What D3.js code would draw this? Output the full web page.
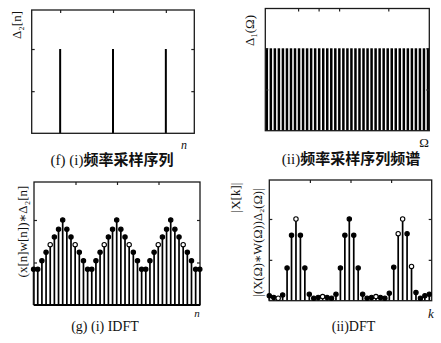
<!DOCTYPE html>
<html>
<head>
<meta charset="utf-8">
<script src="https://cdn.jsdelivr.net/npm/d3@7"></script>
<style>
  body { margin: 0; background: #fff; }
  text { fill: #111; }
</style>
</head>
<body>
<script>
// (f) frequency-sampling impulse train Δ2[n], n = 0..40
const sampleTrain = [0,0,0,0,0,0,0,1,0,0,0,0,0,0,0,0,0,0,0,0,1,0,0,0,0,0,0,0,0,0,0,0,0,1,0,0,0,0,0,0,0];
// (ii) its spectrum Δ1(Ω): a comb of equal lines
const combSpectrum = [1,1,1,1,1,1,1,1,1,1,1,1,1,1,1,1,1,1,1,1,1,1,1,1,1,1,1,1,1,1,1,1,1,1,1,1,1,1,1,1,1];
// (g) IDFT: periodic repetition of the windowed sequence, n = 0..40
const idftValues = [0.42,0.42,0.52,0.62,0.71,0.80,0.89,1.00,0.89,0.80,0.71,0.62,0.52,0.42,
                    0.42,0.52,0.62,0.71,0.80,0.89,1.00,0.89,0.80,0.71,0.62,0.52,0.42,
                    0.42,0.52,0.62,0.71,0.80,0.89,1.00,0.89,0.80,0.71,0.62,0.52,0.42,0.42];
const idftOpen = [4,10,17,23,30,36];
// (ii) DFT magnitude |X[k]|, k = 0..36
const dftValues = [0.06,0.04,0.03,0.07,0.40,0.80,1.00,0.80,0.40,0.08,0.03,0.04,0.05,0.04,0.03,
                   0.08,0.40,0.80,1.00,0.80,0.40,0.08,0.03,0.04,0.05,0.04,0.03,
                   0.09,0.41,0.82,1.00,0.82,0.42,0.10,0.03,0.06,0.08];
const dftOpen = [2,6,12,24,29,30,32];

// captions: [prefix, Chinese title]
const captions = [["(f) (i)", "频率采样序列"], ["(ii)", "频率采样序列频谱"], ["(g) (i) IDFT", ""], ["(ii)DFT", ""]];

const W = 441, H = 343;
const svg = d3.select("body").append("svg").attr("width", W).attr("height", H);

const serif = "'Liberation Serif','DejaVu Serif',serif";
const cjk = "'Noto Sans CJK SC',sans-serif";

// frame with small inward ticks on all four sides
function frame(x, y, yTicks, xTicks) {
  const [x0, x1] = x.range(), [y0, y1] = y.range();
  const g = svg.append("g");
  const clean = s => { s.select(".domain").remove(); s.selectAll("line").attr("stroke", "#222").attr("stroke-width", 1.2); };
  g.append("g").attr("transform", `translate(${x0},0)`)
    .call(d3.axisLeft(y).tickValues(yTicks).tickSize(-3).tickFormat("")).call(clean);
  g.append("g").attr("transform", `translate(${x1},0)`)
    .call(d3.axisRight(y).tickValues(yTicks).tickSize(-3).tickFormat("")).call(clean);
  g.append("g").attr("transform", `translate(0,${y1})`)
    .call(d3.axisTop(x).tickValues(xTicks).tickSize(-3).tickFormat("")).call(clean);
  g.append("rect").attr("x", Math.min(x0, x1)).attr("y", y1)
    .attr("width", Math.abs(x1 - x0)).attr("height", y0 - y1)
    .attr("fill", "none").attr("stroke", "#1a1a1a").attr("stroke-width", 1.3);
  return g;
}

function stems(data, x, y, width) {
  svg.append("g").selectAll("line").data(data).join("line")
    .attr("x1", (d, i) => x(i)).attr("x2", (d, i) => x(i))
    .attr("y1", y(0)).attr("y2", d => y(d))
    .attr("stroke", "#000").attr("stroke-width", width);
}

function markers(data, open, x, y) {
  svg.append("g").selectAll("circle").data(data).join("circle")
    .attr("cx", (d, i) => x(i)).attr("cy", d => y(d)).attr("r", 2.2)
    .attr("fill", (d, i) => open.includes(i) ? "#fff" : "#000")
    .attr("stroke", "#000").attr("stroke-width", 1.1);
}

function vlabel(txt, cx, cy, size) {
  svg.append("text").attr("transform", `translate(${cx},${cy}) rotate(-90)`)
    .attr("text-anchor", "middle").attr("dominant-baseline", "central")
    .style("font-family", serif).style("font-size", size + "px").text(txt);
}
function label(txt, x, y, size, italic) {
  svg.append("text").attr("x", x).attr("y", y).attr("text-anchor", "middle")
    .style("font-family", serif).style("font-size", size + "px")
    .style("font-style", italic ? "italic" : "normal").text(txt);
}
function caption(parts, x, y, size) {
  const t = svg.append("text").attr("x", x).attr("y", y).attr("text-anchor", "middle")
    .style("font-size", size + "px");
  t.append("tspan").style("font-family", serif).text(parts[0]);
  if (parts[1]) t.append("tspan").style("font-family", cjk).style("font-weight", "bold").text(parts[1]);
}

// ---- (f) impulse train ----
const xf = d3.scaleLinear().domain([0, 40]).range([31.7, 194.3]);
const yf = d3.scaleLinear().domain([0, 1.463]).range([133.3, 10]);
stems(sampleTrain, xf, yf, 2);
frame(xf, yf, [0.5, 1], [7, 20, 33]);
vlabel("Δ₂[n]", 16.5, 25, 13);
label("n", 184, 149, 12, true);
caption(captions[0], 112, 165, 15);

// ---- (ii) comb spectrum ----
const xs = d3.scaleLinear().domain([0, 40]).range([266.8, 428]);
const ys = d3.scaleLinear().domain([0, 1.483]).range([130.7, 8.5]);
stems(combSpectrum, xs, ys, 2.5);
frame(d3.scaleLinear().domain([0, 40]).range([265.3, 429.3]), ys, [0.5, 1], [8, 13, 18, 30]);
vlabel("Δ₁(Ω)", 249.5, 30.5, 13);
label("Ω", 424, 147, 13, false);
caption(captions[1], 351, 164, 15);

// ---- (g) IDFT ----
const xg = d3.scaleLinear().domain([0, 40]).range([33.6, 199.8]);
const yg = d3.scaleLinear().domain([0, 1.447]).range([305, 182]);
stems(idftValues, xg, yg, 1.7);
frame(d3.scaleLinear().domain([0, 40]).range([34, 200]), yg, [0.5, 1], [10, 20, 30]);
svg.append("line").attr("x1", 34).attr("x2", 200).attr("y1", yg(0)).attr("y2", yg(0))
  .attr("stroke", "#000").attr("stroke-width", 2);
markers(idftValues, idftOpen, xg, yg);
vlabel("(x[n]w[n])∗Δ₂[n]", 22.5, 231.5, 13);
label("n", 197, 317, 11, true);
caption(captions[2], 105, 331, 14);

// ---- (ii) DFT ----
const xh = d3.scaleLinear().domain([0, 36]).range([269.3, 429.3]);
const yh = d3.scaleLinear().domain([0, 1.477]).range([300.7, 180]);
stems(dftValues, xh, yh, 1.7);
frame(d3.scaleLinear().domain([0, 36]).range([269.3, 431.7]), yh, [0.5, 1], [9, 18, 27]);
markers(dftValues, dftOpen, xh, yh);
vlabel("|X[k]|", 235, 197.5, 13);
vlabel("|(X(Ω)∗W(Ω))Δ₂(Ω)|", 258.3, 242.5, 12.5);
label("k", 431, 318, 13, true);
caption(captions[3], 353.5, 331, 14);
</script>
</body>
</html>
